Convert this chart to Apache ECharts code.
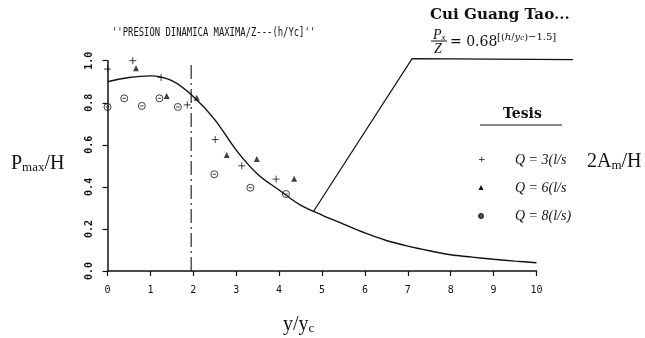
<!DOCTYPE html>
<html><head><meta charset="utf-8">
<script src="https://cdn.jsdelivr.net/npm/echarts@6/dist/echarts.min.js"></script>
<style>html,body{margin:0;padding:0;background:#fff}#c{width:645px;height:338px}</style>
</head><body><div id="c"></div>
<script>
// ---- data ----
const xTicks = ['0','1','2','3','4','5','6','7','8','9','10'];
const yTicks = ['0.0','0.2','0.4','0.6','0.8','1.0'];
const q3Points = [[0,0.96],[0.59,1.0],[1.25,0.92],[1.86,0.79],[2.51,0.625],[3.13,0.50],[3.93,0.437]];
const q6Points = [[0.665,0.964],[1.38,0.832],[2.08,0.824],[2.78,0.552],[3.48,0.533],[4.35,0.439]];
const q8Points = [[0,0.78],[0.39,0.821],[0.8,0.785],[1.21,0.821],[1.64,0.78],[2.49,0.46],[3.33,0.396],[4.16,0.366]];
const curveX = [0,0.5,1,1.5,2,2.5,3,3.5,4,4.5,5,5.5,6,6.5,7,7.5,8,8.5,9,9.5,10];
const curveY = [0.90,0.92,0.928,0.905,0.83,0.72,0.575,0.46,0.385,0.313,0.266,0.223,0.181,0.145,0.118,0.096,0.077,0.066,0.056,0.047,0.039];
const leaderLine = [[4.80,0.283],[7.10,1.01],[10.85,1.005]];
const refLineX = 1.95;
const refLineY = [0, 0.98];
const titleText = "''PRESION DINAMICA MAXIMA/Z---(h/Yc]''";
const legendLabels = ['Q = 3(l/s', 'Q = 6(l/s', 'Q = 8(l/s)'];

const ink = '#111';
const plusPath = 'path://M-5,0 L5,0 M0,-5 L0,5';
const thetaPath = 'path://M0,-5 A5,5 0 1,1 0,5 A5,5 0 1,1 0,-5 Z M-2.5,0 L2.5,0';

const chart = echarts.init(document.getElementById('c'), null, {renderer:'canvas'});
const serif = '"Liberation Serif", "DejaVu Serif", serif';
const richAxis = {
  a: {fontFamily: serif, fontSize: 20, verticalAlign: 'bottom', lineHeight: 24},
  b: {fontFamily: serif, fontSize: 13, verticalAlign: 'bottom', lineHeight: 14}
};

chart.setOption({
  animation: false,
  backgroundColor: '#fff',
  grid: {left: 107.5, right: 108.5, top: 60.7, bottom: 67},
  xAxis: {
    type: 'value', min: 0, max: 10, interval: 1,
    axisLine: {lineStyle: {color: ink, width: 1.5}},
    axisTick: {length: 5, lineStyle: {color: ink, width: 1.2}},
    splitLine: {show: false},
    axisLabel: {color: ink, fontFamily: '"DejaVu Sans Mono", monospace', fontSize: 10, margin: 14,
      formatter: v => xTicks[Math.round(v)]}
  },
  yAxis: {
    type: 'value', min: 0, max: 1, interval: 0.2,
    axisLine: {show: true, lineStyle: {color: ink, width: 1.5}},
    axisTick: {show: true, length: 5, lineStyle: {color: ink, width: 1.2}},
    splitLine: {show: false},
    axisLabel: {color: ink, fontFamily: '"DejaVu Sans Mono", monospace', fontSize: 10, fontWeight: 'bold',
      rotate: 90, margin: 13, formatter: v => yTicks[Math.round(v*5)]}
  },
  series: [
    {type: 'line', data: curveX.map((x,i)=>[x, curveY[i]]), smooth: 0.35, showSymbol: false, symbol: 'none',
      lineStyle: {color: ink, width: 1.4}, z: 3},
    {type: 'line', data: refLineY.map(y=>[refLineX, y]), showSymbol: false, symbol: 'none',
      lineStyle: {color: ink, width: 1.1, type: [14,4,2,4]}, z: 2},
    {type: 'scatter', data: q3Points, symbol: plusPath, symbolSize: 7,
      itemStyle: {color: 'none', borderColor: ink, borderWidth: 1}, z: 4},
    {type: 'scatter', data: q6Points, symbol: 'triangle', symbolSize: 6,
      itemStyle: {color: ink}, z: 4},
    {type: 'scatter', data: q8Points, symbol: thetaPath, symbolSize: 7,
      itemStyle: {color: 'none', borderColor: ink, borderWidth: 1}, z: 4}
  ]
});

// leader line: data coordinates converted through the chart's own axes (extends past the grid)
const leaderPx = leaderLine.map(p => chart.convertToPixel({gridIndex: 0}, p));

chart.setOption({
  graphic: [
    {type: 'polyline', shape: {points: leaderPx}, style: {stroke: ink, lineWidth: 1.2, fill: null}, z: 5},
    {type: 'text', x: 112, y: 27, scaleX: 0.74,
      style: {text: titleText, font: '12px "DejaVu Sans Mono"', fill: ink}},
    {type: 'text', x: 430, y: 8, scaleX: 1.08,
      style: {text: 'Cui Guang Tao...', font: 'bold 14px "DejaVu Serif"', fill: ink}},
    // formula P_x / Z = 0.68^[(h/y_c)-1.5]
    {type: 'text', x: 433, y: 26,
      style: {rich: {a: {fontFamily: serif, fontStyle: 'italic', fontSize: 14, verticalAlign: 'bottom', lineHeight: 16},
                     b: {fontFamily: serif, fontStyle: 'italic', fontSize: 9, verticalAlign: 'bottom', lineHeight: 10}},
              text: '{a|P}{b|x}', fill: ink}},
    {type: 'line', shape: {x1: 431, y1: 41, x2: 447, y2: 41}, style: {stroke: ink, lineWidth: 1}},
    {type: 'text', x: 434, y: 42,
      style: {text: 'Z', font: 'italic 14px ' + serif, fill: ink}},
    {type: 'text', x: 450, y: 35,
      style: {text: '= 0.68', font: '14px "DejaVu Serif"', fill: ink}},
    {type: 'text', x: 497, y: 30,
      style: {rich: {a: {fontFamily: '"DejaVu Serif"', fontSize: 10, verticalAlign: 'bottom', lineHeight: 12},
                     i: {fontFamily: '"DejaVu Serif"', fontStyle: 'italic', fontSize: 10, verticalAlign: 'bottom', lineHeight: 12},
                     b: {fontFamily: '"DejaVu Serif"', fontStyle: 'italic', fontSize: 7, verticalAlign: 'bottom', lineHeight: 9}},
              text: '{a|[(}{i|h}{a|/}{i|y}{b|c}{a|)\u22121.5]}', fill: ink}},
    // legend
    {type: 'text', x: 503, y: 107,
      style: {text: 'Tesis', font: 'bold 14px "DejaVu Serif"', fill: ink}},
    {type: 'line', shape: {x1: 480, y1: 125, x2: 562, y2: 125}, style: {stroke: ink, lineWidth: 1.2}},
    {type: 'text', x: 478, y: 155, style: {text: '+', font: '9px "DejaVu Sans"', fill: ink}},
    {type: 'polygon', shape: {points: [[481,185],[478.5,190],[483.5,190]]}, style: {fill: ink}},
    {type: 'circle', shape: {cx: 481, cy: 216, r: 2.5}, style: {fill: '#555', stroke: ink, lineWidth: 1}},
    {type: 'text', x: 515, y: 153, style: {text: legendLabels[0], font: 'italic 14px ' + serif, fill: ink}},
    {type: 'text', x: 515, y: 181, style: {text: legendLabels[1], font: 'italic 14px ' + serif, fill: ink}},
    {type: 'text', x: 515, y: 209, style: {text: legendLabels[2], font: 'italic 14px ' + serif, fill: ink}},
    // axis names as serif text
    {type: 'text', x: 587, y: 148, style: {rich: richAxis, text: '{a|2A}{b|m}{a|/H}', fill: ink}},
    {type: 'text', x: 11, y: 150, style: {rich: richAxis, text: '{a|P}{b|max}{a|/H}', fill: ink}},
    {type: 'text', x: 283, y: 311, style: {rich: richAxis, text: '{a|y/y}{b|c}', fill: ink}}
  ]
});
</script></body></html>
